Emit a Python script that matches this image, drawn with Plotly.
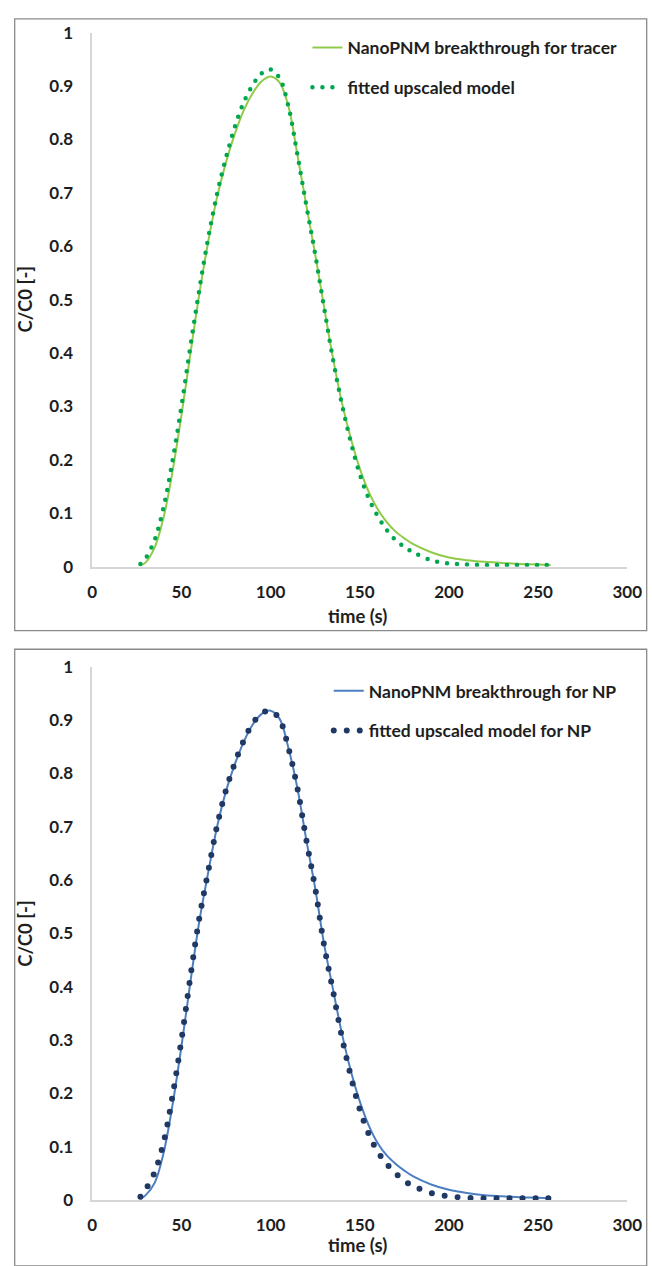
import plotly.graph_objects as go

# ---------------- data ----------------
time_s = [27, 30, 35, 40, 45, 50, 55, 60, 65, 70, 75, 80, 85, 90, 95, 100,
          105, 110, 115, 120, 125, 130, 135, 140, 145, 150, 155, 160, 165,
          170, 175, 180, 190, 200, 210, 220, 230, 240, 250, 257]

tracer_pnm = [0.002, 0.008, 0.036, 0.092, 0.178, 0.283, 0.398, 0.510, 0.608,
              0.692, 0.757, 0.811, 0.855, 0.887, 0.909, 0.918, 0.907, 0.862,
              0.772, 0.677, 0.585, 0.486, 0.390, 0.307, 0.240, 0.184, 0.140,
              0.108, 0.084, 0.066, 0.053, 0.042, 0.027, 0.017, 0.012, 0.009,
              0.007, 0.005, 0.004, 0.003]

tracer_fit = [0.005, 0.016, 0.050, 0.111, 0.198, 0.300, 0.412, 0.518, 0.615,
              0.698, 0.766, 0.824, 0.870, 0.902, 0.924, 0.931, 0.915, 0.862,
              0.772, 0.677, 0.585, 0.485, 0.388, 0.304, 0.233, 0.173, 0.128,
              0.095, 0.069, 0.050, 0.037, 0.027, 0.012, 0.006, 0.004, 0.003,
              0.003, 0.003, 0.003, 0.003]

np_pnm = [0.002, 0.009, 0.032, 0.088, 0.178, 0.288, 0.408, 0.522, 0.614,
          0.700, 0.767, 0.818, 0.860, 0.892, 0.912, 0.918, 0.903, 0.848,
          0.773, 0.676, 0.585, 0.480, 0.395, 0.312, 0.242, 0.185, 0.140,
          0.107, 0.084, 0.068, 0.055, 0.044, 0.029, 0.019, 0.013, 0.009,
          0.007, 0.005, 0.004, 0.003]

np_fit = [0.006, 0.020, 0.052, 0.108, 0.195, 0.300, 0.418, 0.528, 0.616,
          0.702, 0.769, 0.820, 0.862, 0.894, 0.913, 0.918, 0.902, 0.848,
          0.773, 0.676, 0.585, 0.478, 0.392, 0.305, 0.232, 0.170, 0.124,
          0.091, 0.068, 0.050, 0.036, 0.026, 0.013, 0.007, 0.004, 0.003,
          0.003, 0.003, 0.003, 0.003]

x_ticks = [0, 50, 100, 150, 200, 250, 300]
x_tick_labels = ["0", "50", "100", "150", "200", "250", "300"]
y_ticks = [0, 0.1, 0.2, 0.3, 0.4, 0.5, 0.6, 0.7, 0.8, 0.9, 1]
y_tick_labels = ["0", "0.1", "0.2", "0.3", "0.4", "0.5", "0.6", "0.7", "0.8", "0.9", "1"]

names_top = ["NanoPNM breakthrough for tracer", "fitted upscaled model"]
names_bot = ["NanoPNM breakthrough for NP", "fitted upscaled model for NP"]
x_title = "time (s)"
y_title = "C/C0 [-]"

# ---------------- styling ----------------
W, H = 652, 1266
FONT = "Lato"
TXT = "#1e1e1e"
GREEN_LINE = "#8FCB48"
GREEN_DOT = "#00A550"
BLUE_LINE = "#4D7FC0"
BLUE_DOT = "#1F3864"


def fx(p):
    return p / W


def fy(p):
    return 1 - p / H


fig = go.Figure()

fig.add_trace(go.Scatter(x=time_s, y=tracer_pnm, mode="lines", name=names_top[0],
                         line=dict(color=GREEN_LINE, width=2, shape="spline"),
                         xaxis="x", yaxis="y", legend="legend", legendgroup="a"))
fig.add_trace(go.Scatter(x=time_s, y=tracer_fit, mode="lines", name=names_top[1],
                         line=dict(color=GREEN_DOT, width=4.5, shape="spline", dash="4px,6px"),
                         xaxis="x", yaxis="y", legend="legend", legendgroup="b"))
fig.add_trace(go.Scatter(x=time_s, y=np_pnm, mode="lines", name=names_bot[0],
                         line=dict(color=BLUE_LINE, width=2, shape="spline"),
                         xaxis="x2", yaxis="y2", legend="legend2", legendgroup="c"))
fig.add_trace(go.Scatter(x=time_s, y=np_fit, mode="lines", name=names_bot[1],
                         line=dict(color=BLUE_DOT, width=6, shape="spline", dash="6px,7px"),
                         xaxis="x2", yaxis="y2", legend="legend2", legendgroup="d"))

tickfont = dict(family=FONT, size=17, color=TXT, weight="bold")

xcommon = dict(range=[0, 300], tickmode="array", tickvals=x_ticks, ticktext=x_tick_labels,
               showgrid=False, zeroline=False, showline=True, linecolor="#d6d6d6", linewidth=1.5,
               ticks="", ticklabelstandoff=9, ticklabeloverflow="allow", tickfont=tickfont,
               fixedrange=True, domain=[fx(90), fx(642)])
ycommon = dict(range=[0, 1], tickmode="array", tickvals=y_ticks, ticktext=y_tick_labels,
               showgrid=False, zeroline=False, showline=True, linecolor="#d6d6d6", linewidth=1.5,
               ticks="", ticklabelstandoff=14, tickfont=tickfont, fixedrange=True)

legend_common = dict(xanchor="left", yanchor="top", bgcolor="rgba(0,0,0,0)",
                     borderwidth=0, tracegroupgap=14, traceorder="grouped",
                     font=dict(family=FONT, size=17.5, color=TXT, weight="bold"))

fig.update_layout(
    width=W, height=H, margin=dict(l=0, r=0, t=0, b=0),
    paper_bgcolor="white", plot_bgcolor="white",
    showlegend=True,
    xaxis=dict(anchor="y", **xcommon),
    yaxis=dict(anchor="x", domain=[fy(565), fy(22)], **ycommon),
    xaxis2=dict(anchor="y2", **xcommon),
    yaxis2=dict(anchor="x2", domain=[fy(1209), fy(667)], **ycommon),
    legend=dict(x=fx(312), y=fy(19), **legend_common),
    legend2=dict(x=fx(334), y=fy(673), **legend_common),
)

# panel frames
frame = dict(color="#8a8a8a", width=1.3)
fig.add_shape(type="rect", xref="paper", yref="paper", x0=fx(10), x1=fx(W + 10),
              y0=fy(630), y1=fy(8), line=frame, fillcolor="rgba(0,0,0,0)", layer="below")
fig.add_shape(type="rect", xref="paper", yref="paper", x0=fx(10), x1=fx(W + 10),
              y0=fy(H + 10), y1=fy(649), line=frame, fillcolor="rgba(0,0,0,0)", layer="below")

title_font = dict(family=FONT, size=18.5, color=TXT, weight="bold")
for yc in (293, 938):
    fig.add_annotation(text=y_title, xref="paper", yref="paper", x=fx(21), y=fy(yc),
                       textangle=-90, showarrow=False, font=title_font,
                       xanchor="center", yanchor="middle")
for yc in (615, 1255):
    fig.add_annotation(text=x_title, xref="paper", yref="paper", x=fx(364), y=fy(yc),
                       showarrow=False, font=title_font, xanchor="center", yanchor="middle")

# turn the dash pattern of the fitted-model lines into round dots (Excel "round dot")
round_dots = """
var gd = document.getElementById('{plot_id}');
function roundDots() {
  gd.querySelectorAll('path.js-line').forEach(function (p) {
    var d = p.style.strokeDasharray;
    if (d && d !== 'none' && d.indexOf(',') > -1 && p.dataset.rd !== '1') {
      var parts = d.split(',').map(function (s) { return parseFloat(s); });
      p.style.strokeLinecap = 'round';
      p.style.strokeDasharray = '0px,' + (parts[0] + parts[1]) + 'px';
      p.dataset.rd = '1';
    }
  });
}
roundDots();
gd.on && gd.on('plotly_afterplot', roundDots);
"""

fig.write_html("out.html", post_script=round_dots)
